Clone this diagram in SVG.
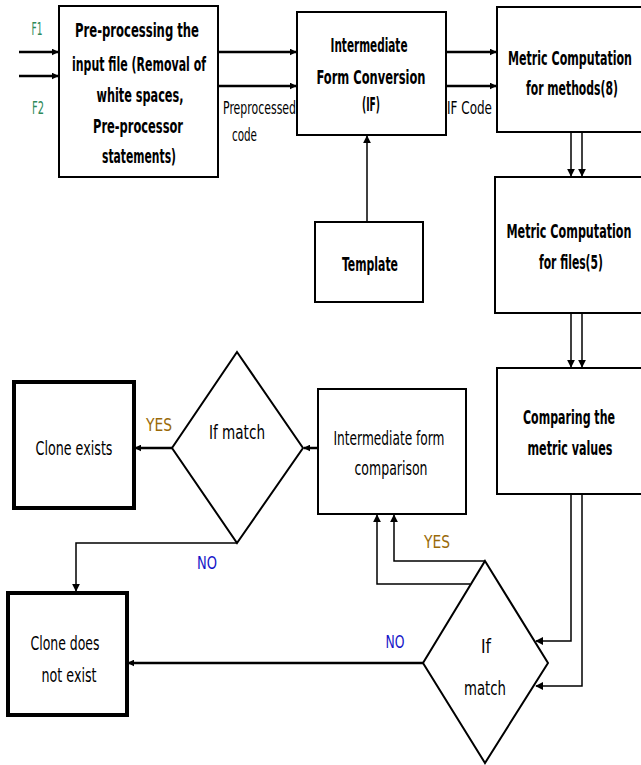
<svg xmlns="http://www.w3.org/2000/svg" width="641" height="765" viewBox="0 0 641 765">
<defs>
<marker id="ah" viewBox="0 0 10 10" refX="9" refY="5" markerWidth="7" markerHeight="7" markerUnits="userSpaceOnUse" orient="auto">
<path d="M0,0 L10,5 L0,10 z" fill="#000"/>
</marker>
<marker id="ahs" viewBox="0 0 10 10" refX="9" refY="5" markerWidth="8" markerHeight="8" markerUnits="userSpaceOnUse" orient="auto">
<path d="M0,0 L10,5 L0,10 z" fill="#000"/>
</marker>
</defs>
<style>
.box{fill:#fff;stroke:#000;stroke-width:2}
.thick{fill:#fff;stroke:#000;stroke-width:4}
.dia{fill:#fff;stroke:#000;stroke-width:2}
.t{font-family:"DejaVu Sans Condensed","Liberation Sans",sans-serif;font-size:20px;font-weight:bold;fill:#000;text-anchor:middle}
.n{font-family:"DejaVu Sans Condensed","Liberation Sans",sans-serif;font-size:20px;fill:#000;text-anchor:middle}
.lbl{font-family:"DejaVu Sans Condensed","Liberation Sans",sans-serif;font-size:17px;fill:#000}
.g{font-family:"DejaVu Sans Condensed","Liberation Sans",sans-serif;font-size:18px;fill:#2e8a5a;text-anchor:middle}
.yes{font-family:"DejaVu Sans Condensed","Liberation Sans",sans-serif;font-size:18px;fill:#9a6a08;text-anchor:middle}
.no{font-family:"DejaVu Sans Condensed","Liberation Sans",sans-serif;font-size:18px;fill:#1515c8;text-anchor:middle}
.c{fill:none;stroke:#000;stroke-width:2.5}
.cs{fill:none;stroke:#000;stroke-width:1.5}
</style>
<rect width="641" height="765" fill="#fff"/>

<g id="connectors">
<line class="c" x1="19" y1="52" x2="58" y2="52" marker-end="url(#ah)"/>
<line class="c" x1="19" y1="76" x2="58" y2="76" marker-end="url(#ah)"/>
<line class="c" x1="218" y1="52" x2="296" y2="52" marker-end="url(#ah)"/>
<line class="c" x1="218" y1="86" x2="296" y2="86" marker-end="url(#ah)"/>
<line class="c" x1="446" y1="52" x2="496" y2="52" marker-end="url(#ah)"/>
<line class="c" x1="446" y1="86" x2="496" y2="86" marker-end="url(#ah)"/>
<line class="cs" x1="367" y1="222" x2="367" y2="136" marker-end="url(#ahs)"/>
<line class="cs" x1="571" y1="132" x2="571" y2="176" marker-end="url(#ahs)"/>
<line class="cs" x1="582" y1="132" x2="582" y2="176" marker-end="url(#ahs)"/>
<line class="cs" x1="571" y1="313" x2="571" y2="367" marker-end="url(#ahs)"/>
<line class="cs" x1="582" y1="313" x2="582" y2="367" marker-end="url(#ahs)"/>
<polyline class="cs" points="571,494 571,641 536,641" marker-end="url(#ahs)"/>
<polyline class="cs" points="582,494 582,686 536,686" marker-end="url(#ahs)"/>
<polyline class="cs" points="485,561 394,561 394,515" marker-end="url(#ahs)"/>
<polyline class="cs" points="470,584 377,584 377,515" marker-end="url(#ahs)"/>
<line class="c" x1="423" y1="663" x2="128" y2="663" marker-end="url(#ah)"/>
<line class="c" x1="318" y1="448" x2="304" y2="448" marker-end="url(#ah)"/>
<line class="c" x1="172" y1="448" x2="135" y2="448" marker-end="url(#ah)"/>
<polyline class="cs" points="237,543 76,543 76,591" marker-end="url(#ahs)"/>
</g>

<g id="labels">
<text class="g" x="37" y="35" textLength="11" lengthAdjust="spacingAndGlyphs">F1</text>
<text class="g" x="38" y="114" textLength="12" lengthAdjust="spacingAndGlyphs">F2</text>
<text class="lbl" x="223" y="114" textLength="73" lengthAdjust="spacingAndGlyphs">Preprocessed</text>
<text class="lbl" x="232" y="141" textLength="25" lengthAdjust="spacingAndGlyphs">code</text>
<text class="lbl" x="447" y="114" textLength="45" lengthAdjust="spacingAndGlyphs">IF Code</text>
<text class="yes" x="159" y="431" textLength="26" lengthAdjust="spacingAndGlyphs">YES</text>
<text class="no" x="207" y="569" textLength="20" lengthAdjust="spacingAndGlyphs">NO</text>
<text class="yes" x="437" y="548" textLength="26" lengthAdjust="spacingAndGlyphs">YES</text>
<text class="no" x="395" y="648" textLength="19" lengthAdjust="spacingAndGlyphs">NO</text>
</g>

<g id="preprocess">
<rect class="box" x="59" y="6" width="159" height="171"/>
<text class="t" x="137" y="37" textLength="124" lengthAdjust="spacingAndGlyphs">Pre-processing  the</text>
<text class="t" x="139" y="71" textLength="134" lengthAdjust="spacingAndGlyphs">input file (Removal of</text>
<text class="t" x="140" y="102" textLength="87" lengthAdjust="spacingAndGlyphs">white spaces,</text>
<text class="t" x="138" y="133" textLength="90" lengthAdjust="spacingAndGlyphs">Pre-processor</text>
<text class="t" x="139" y="163" textLength="74" lengthAdjust="spacingAndGlyphs">statements)</text>
</g>

<g id="ifconv">
<rect class="box" x="297" y="12" width="149" height="123"/>
<text class="t" x="369" y="52" textLength="77" lengthAdjust="spacingAndGlyphs">Intermediate</text>
<text class="t" x="371" y="84" textLength="109" lengthAdjust="spacingAndGlyphs">Form Conversion</text>
<text class="t" x="371" y="111" textLength="18" lengthAdjust="spacingAndGlyphs">(IF)</text>
</g>

<g id="methods">
<rect class="box" x="497" y="7" width="145" height="125"/>
<text class="t" x="570" y="65" textLength="124" lengthAdjust="spacingAndGlyphs">Metric Computation</text>
<text class="t" x="572" y="95" textLength="92" lengthAdjust="spacingAndGlyphs">for methods(8)</text>
</g>

<g id="template">
<rect class="box" x="315" y="222" width="108" height="80"/>
<text class="t" x="370" y="271" textLength="56" lengthAdjust="spacingAndGlyphs">Template</text>
</g>

<g id="files">
<rect class="box" x="495" y="177" width="147" height="136"/>
<text class="t" x="569" y="238" textLength="125" lengthAdjust="spacingAndGlyphs">Metric Computation</text>
<text class="t" x="571" y="269" textLength="64" lengthAdjust="spacingAndGlyphs">for files(5)</text>
</g>

<g id="compare">
<rect class="box" x="497" y="368" width="145" height="126"/>
<text class="t" x="569" y="424" textLength="92" lengthAdjust="spacingAndGlyphs">Comparing the</text>
<text class="t" x="570" y="455" textLength="85" lengthAdjust="spacingAndGlyphs">metric values</text>
</g>

<g id="ifcompare">
<rect class="box" x="318" y="389" width="148" height="125"/>
<text class="n" x="389" y="445" textLength="111" lengthAdjust="spacingAndGlyphs">Intermediate form</text>
<text class="n" x="391" y="475" textLength="73" lengthAdjust="spacingAndGlyphs">comparison</text>
</g>

<g id="match1">
<polygon class="dia" points="237,352 303,448 237,543 172,448"/>
<text class="n" x="237" y="439" textLength="56" lengthAdjust="spacingAndGlyphs">If match</text>
</g>

<g id="cloneexists">
<rect class="thick" x="14" y="382" width="120" height="126"/>
<text class="n" x="74" y="455" textLength="77" lengthAdjust="spacingAndGlyphs">Clone exists</text>
</g>

<g id="match2">
<polygon class="dia" points="485,561 548,663 485,763 423,663"/>
<text class="n" x="486" y="653" textLength="10" lengthAdjust="spacingAndGlyphs">If</text>
<text class="n" x="485" y="695" textLength="42" lengthAdjust="spacingAndGlyphs">match</text>
</g>

<g id="clonenot">
<rect class="thick" x="8" y="593" width="119" height="122"/>
<text class="n" x="65" y="650" textLength="69" lengthAdjust="spacingAndGlyphs">Clone does</text>
<text class="n" x="69" y="682" textLength="55" lengthAdjust="spacingAndGlyphs">not exist</text>
</g>
</svg>
